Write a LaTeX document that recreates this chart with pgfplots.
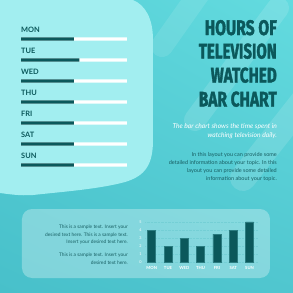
\documentclass[border=0pt]{standalone}
\usepackage{pgfplots}
\pgfplotsset{compat=1.18}
\usetikzlibrary{shadings}
\usepackage{graphicx}
\usepackage{fontspec}
\setmainfont{Lato}
\newfontfamily\titlefont{Fira Sans}[BoldFeatures={FakeBold=2}]
\definecolor{bgLL}{HTML}{48C0CA}
\definecolor{bgUL}{HTML}{57D0D7}
\definecolor{bgLR}{HTML}{50C6CF}
\definecolor{bgUR}{HTML}{63DBDF}
\definecolor{blob}{HTML}{A2EEF0}
\definecolor{dark}{HTML}{0B585B}
\definecolor{txt}{HTML}{175E62}
\definecolor{gridc}{HTML}{74CFD5}
\begin{document}
\begin{tikzpicture}
\useasboundingbox (0,0) rectangle (293pt,293pt);
\begin{scope}[x=1pt,y=-1pt,yshift=293pt]
\clip (0,0) rectangle (293,293);
\shade[lower left=bgLL, upper left=bgUL, lower right=bgLR, upper right=bgUR] (0,0) rectangle (293,293);
% decorative bands
\draw[white, opacity=0.13, line width=22pt, line cap=round] (278,8) -- (195,120);
\draw[white, opacity=0.10, line width=22pt, line cap=round] (205,-15) -- (162,46);
\draw[white, opacity=0.13, line width=26pt, line cap=round] (320,80) -- (243,178);
% blob
\fill[blob] (0,0) -- (133,0) .. controls (145,5) and (153,18) .. (153,40) -- (153,140)
  .. controls (153,165) and (145,176) .. (125,182)
  .. controls (100,189) and (60,192) .. (33,195)
  .. controls (20,196) and (8,194) .. (0,193) -- cycle;
% panel
\fill[white, opacity=0.3, rounded corners=10pt] (22,209) rectangle (270,278);
% title
\begin{scope}[every node/.style={anchor=base east, inner sep=0pt, text=dark}]
\node at (277,35) {\resizebox{72pt}{15pt}{\titlefont\bfseries HOURS OF}};
\node at (277,58.5) {\resizebox{78pt}{15pt}{\titlefont\bfseries TELEVISION}};
\node at (277,82.5) {\resizebox{66pt}{15pt}{\titlefont\bfseries WATCHED}};
\node at (277,106.5) {\resizebox{78pt}{15pt}{\titlefont\bfseries BAR CHART}};
\end{scope}
% subtitle
\begin{scope}[every node/.style={anchor=base east, inner sep=0pt, text=white, font=\fontsize{6.7}{7}\selectfont\itshape}]
\node at (277,128.3) {The bar chart shows the time spent in};
\node at (277,137.8) {watching television daily.};
\end{scope}
% body
\begin{scope}[every node/.style={anchor=base east, inner sep=0pt, text=txt, font=\fontsize{5.5}{6}\selectfont}]
\node at (277,156) {In this layout you can provide some};
\node at (277,164.2) {detailed information about your topic. In this};
\node at (277,172.4) {layout you can provide some detailed};
\node at (277,180.6) {information about your topic.};
\end{scope}
% bottom text
\begin{scope}[every node/.style={anchor=base east, inner sep=0pt, text=txt, font=\fontsize{4.85}{5}\selectfont}]
\node at (128,229) {This is a sample text. Insert your};
\node at (128,236.5) {desired text here. This is a sample text.};
\node at (128,244) {Insert your desired text here.};
\node at (128,256.5) {This is a sample text. Insert your};
\node at (128,264) {desired text here.};
\end{scope}
\end{scope}
% left progress bars
\begin{axis}[at={(21pt,264.5pt)}, anchor=north west, scale only axis,
  width=106pt, height=147pt, xmin=0, xmax=10, ymin=-0.5, ymax=6.5,
  y dir=reverse, hide axis, xbar, bar width=3.4pt, bar shift=0pt, clip=false]
\addplot[fill=white, draw=none] coordinates {(10,0) (10,1) (10,2) (10,3) (10,4) (10,5) (10,6)};
\addplot[fill=dark, draw=none] coordinates {(5,0) (5.5,1) (5,2) (5,3) (5,4) (5,5) (5,6)};
\foreach \d [count=\i from 0] in {MON,TUE,WED,THU,FRI,SAT,SUN}{
  \edef\temp{\noexpand\node[anchor=base west, inner sep=0pt, text=dark, font=\noexpand\fontsize{7.4}{8}\noexpand\selectfont\noexpand\bfseries] at (axis cs:0,\i-0.3) {\d};}
  \temp
}
\end{axis}
% bottom bar chart
\begin{axis}[at={(145.2pt,31pt)}, anchor=south west, scale only axis,
  width=112.5pt, height=40pt, xmin=-0.4, xmax=6.5, ymin=0, ymax=5,
  axis line style={draw=none}, major tick length=0pt,
  xtick={0,...,6}, xticklabels={MON,TUE,WED,THU,FRI,SAT,SUN},
  ytick={0,...,5},
  ymajorgrids, grid style={gridc, line width=0.4pt, densely dotted},
  ticklabel style={text=white},
  xticklabel style={font=\fontsize{4.2}{4}\selectfont\bfseries, yshift=-1.2pt},
  yticklabel style={font=\fontsize{3.8}{4}\selectfont, xshift=0pt},
  /pgf/number format/assume math mode=true,
  ybar, bar width=8pt, bar shift=0pt]
\addplot[fill=dark, draw=dark!70!gridc, line width=0.5pt] coordinates {(0,4) (1,2) (2,3) (3,2) (4,3.5) (5,4) (6,5)};
\end{axis}
\end{tikzpicture}
\end{document}
